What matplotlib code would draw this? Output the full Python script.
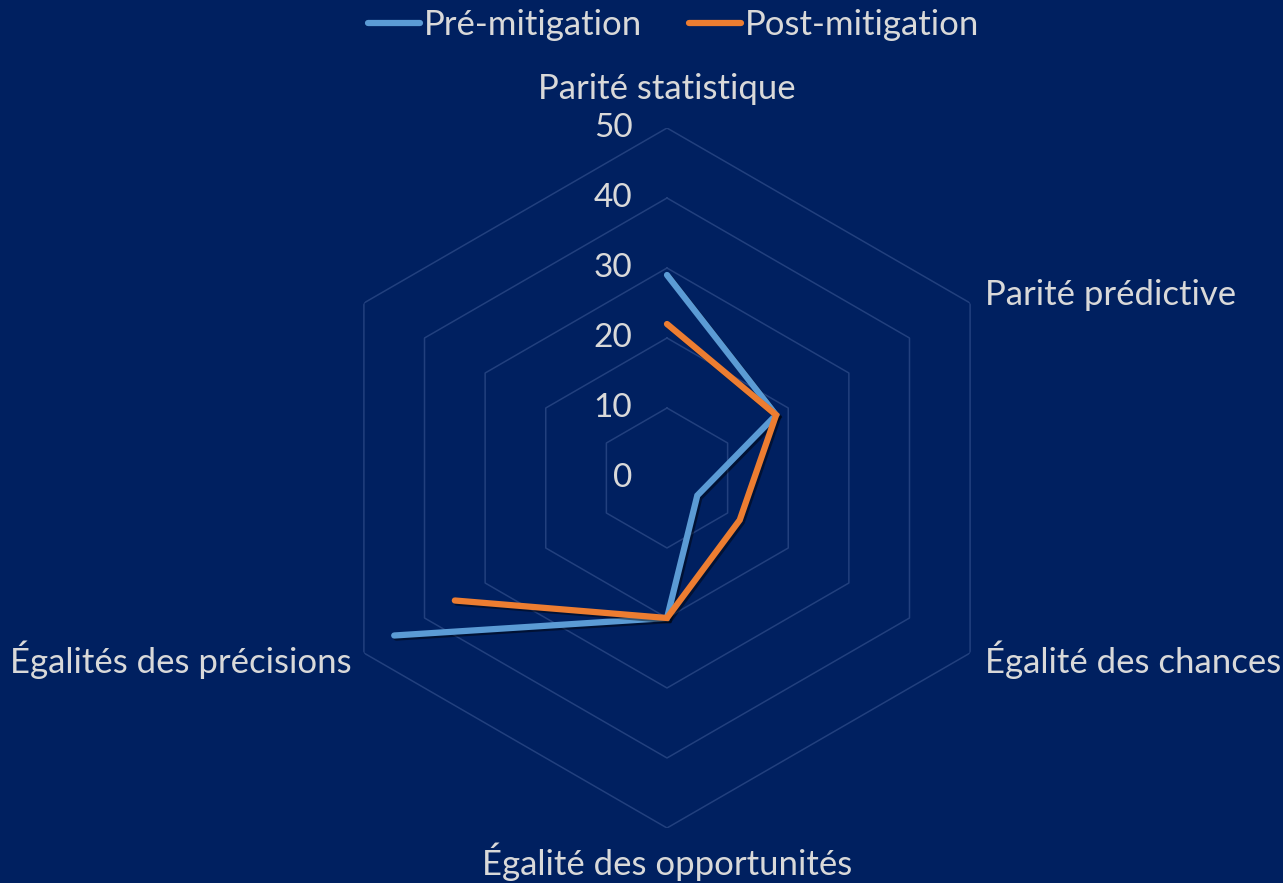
import numpy as np
import matplotlib
matplotlib.use('Agg')
import matplotlib.pyplot as plt
import matplotlib.patheffects as pe
from matplotlib.lines import Line2D

# data
categories = ['Parité statistique', 'Parité prédictive', 'Égalité des chances',
              'Égalité des opportunités', 'Égalités des précisions', '']
pre_mitigation = [29, 18, 5, 20, 45, np.nan]
post_mitigation = [22, 18, 12, 20, 35, np.nan]
ring_values = [0, 10, 20, 30, 40, 50]
series_names = ['Pré-mitigation', 'Post-mitigation']

bg = '#002060'
txt = '#D9D9D9'
grid_c = '#22407E'
colors = ['#5B9BD5', '#ED7D31']

plt.rcParams['font.family'] = ['Lato', 'DejaVu Sans']

fig = plt.figure(figsize=(12.83, 8.83), dpi=100, facecolor=bg)
ax = fig.add_axes([317 / 1283, 55 / 883, 700 / 1283, 700 / 883], projection='polar')
ax.set_facecolor(bg)
ax.set_theta_offset(np.pi / 2)
ax.set_theta_direction(-1)
ax.set_ylim(0, 50)
ax.grid(False)
ax.spines['polar'].set_visible(False)
ax.set_xticks([])
ax.set_yticks([])

n = len(categories)
angles = np.arange(n) * 2 * np.pi / n

# hexagon rings
hexa = np.append(angles, angles[0])
for r in ring_values[1:]:
    ax.plot(hexa, [r] * len(hexa), color=grid_c, lw=1.1, zorder=1)

# ring labels along the top axis
for r in ring_values:
    ax.annotate(str(r), xy=(0, r), xytext=(-25, 0), textcoords='offset points',
                ha='right', va='center', color=txt, fontsize=24)

# category labels
offsets = [((0, 28), 'center', 'center'),
           ((11, 6), 'left', 'center'),
           ((11, -5), 'left', 'center'),
           ((0, -24), 'center', 'center'),
           ((-9, -5), 'right', 'center'),
           ((0, 0), 'center', 'center')]
for ang, lab, (off, ha, va) in zip(angles, categories, offsets):
    ax.annotate(lab, xy=(ang, 50), xytext=off, textcoords='offset points',
                ha=ha, va=va, color=txt, fontsize=25, annotation_clip=False)

shadow = [pe.SimpleLineShadow(offset=(1.5, -1.5), shadow_color='black', alpha=0.45),
          pe.Normal()]
for vals, c in zip([pre_mitigation, post_mitigation], colors):
    ax.plot(angles, vals, color=c, lw=4.5, solid_capstyle='round',
            solid_joinstyle='miter', path_effects=shadow, zorder=3)

handles = [Line2D([], [], color=c, lw=4.5, solid_capstyle='round') for c in colors]
leg = fig.legend(handles, series_names, loc='upper center', bbox_to_anchor=(0.525, 1.025),
                 ncol=2, frameon=False, fontsize=25, handlelength=1.5,
                 handletextpad=0.1, columnspacing=1.35)
for t in leg.get_texts():
    t.set_color(txt)

fig.savefig('out.png', dpi=100, facecolor=bg)
